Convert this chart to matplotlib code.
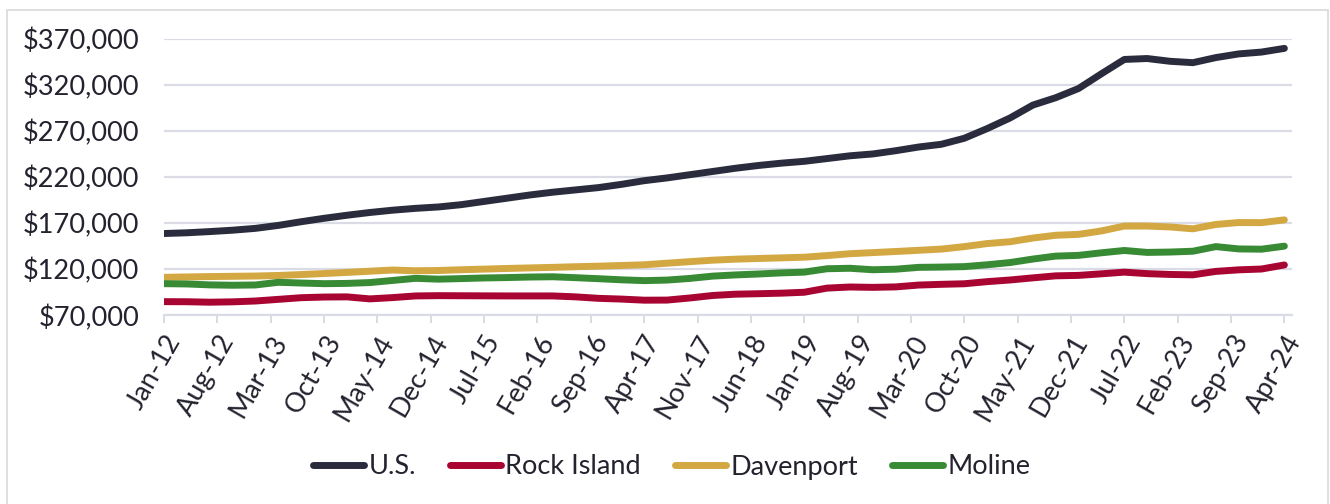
import numpy as np
import pandas as pd
import matplotlib.pyplot as plt
from matplotlib.patches import Rectangle

plt.rcParams['font.family'] = ['Lato', 'DejaVu Sans']

# quarterly readings, Jan-12 .. Apr-24
dates = pd.date_range('2012-01-01', '2024-04-01', freq='3MS')

us = [158700, 159500, 160800, 162300, 164300, 167500, 171500, 175200, 178500, 181500,
      184000, 186000, 187500, 190000, 193500, 197000, 200500, 203500, 206000, 208500,
      212000, 216000, 219000, 222500, 226000, 229500, 232500, 235000, 237000, 240000,
      243000, 245000, 248500, 252500, 255500, 262000, 272500, 284000, 298000, 306000,
      316000, 332000, 347500, 348500, 345500, 344000, 349500, 353500, 355500, 359500]

rock_island = [84800, 84700, 84200, 84600, 85500, 87300, 89100, 89800, 90000, 87800,
               89200, 91000, 91300, 91200, 91100, 91000, 91000, 91000, 90000, 88400,
               87600, 86400, 86500, 88800, 91500, 92900, 93400, 94000, 95000, 99500,
               100700, 100300, 100800, 102800, 103600, 104200, 106500, 108300, 110600, 112800,
               113300, 115000, 116800, 115200, 114300, 113900, 117600, 119300, 120200, 124600]

davenport = [111200, 111600, 112000, 112300, 112600, 113200, 114200, 115300, 116500, 117800,
             119100, 118300, 118600, 119400, 120100, 120800, 121400, 122000, 122700, 123300,
             124000, 124800, 126500, 128200, 129800, 130900, 131600, 132300, 133000, 134800,
             136800, 138000, 139200, 140500, 141800, 144500, 147800, 149800, 153800, 156800,
             157800, 161500, 166800, 166800, 165800, 163800, 168500, 170600, 170500, 173500]

moline = [104300, 104000, 103000, 102600, 102900, 105800, 105000, 104300, 104600, 105500,
          107800, 110100, 109200, 109800, 110500, 110900, 111500, 111800, 110800, 109700,
          108500, 107600, 108200, 110000, 112500, 113800, 114800, 116000, 116800, 120500,
          121000, 119400, 120000, 122000, 122300, 122800, 124800, 127200, 131000, 134200,
          135000, 137800, 140300, 138200, 138600, 139500, 144500, 142000, 141700, 145000]

tick_labels = ['Jan-12', 'Aug-12', 'Mar-13', 'Oct-13', 'May-14', 'Dec-14', 'Jul-15',
               'Feb-16', 'Sep-16', 'Apr-17', 'Nov-17', 'Jun-18', 'Jan-19', 'Aug-19',
               'Mar-20', 'Oct-20', 'May-21', 'Dec-21', 'Jul-22', 'Feb-23', 'Sep-23', 'Apr-24']

series = [('U.S.', us, '#2a2c3d'),
          ('Rock Island', rock_island, '#a80532'),
          ('Davenport', davenport, '#d3a842'),
          ('Moline', moline, '#388b34')]

# months since the first observation
months = (dates.year - 2012) * 12 + (dates.month - 1)

txt = '#23232f'
grid = '#dadbe4'
fs = 19.5

fig = plt.figure(figsize=(13.3, 5.04), dpi=100)
fig.patches.append(Rectangle((7 / 1330, -0.1), 1321 / 1330, 1.1 - 10 / 504,
                             transform=fig.transFigure, fill=False,
                             edgecolor='#d9d9d9', linewidth=1.2))

ax = fig.add_axes([164 / 1330, 1 - 315.3 / 504, 1128 / 1330, 276.6 / 504])

for name, vals, col in series:
    ax.plot(months, vals, color=col, lw=5, solid_capstyle='round',
            solid_joinstyle='round', label=name)

ax.set_xlim(0, 148)
ax.set_ylim(70000, 370000)
ax.set_yticks(np.arange(70000, 370001, 50000))
ax.yaxis.set_major_formatter(plt.FuncFormatter(lambda v, p: '${:,.0f}'.format(v)))
ax.grid(axis='y', color=grid, lw=1.6)
ax.set_axisbelow(True)

ax.set_xticks(np.arange(0, 148, 7))
ax.set_xticklabels(tick_labels, rotation=60, ha='right', va='top',
                   rotation_mode='anchor')

for s in ['left', 'right', 'top']:
    ax.spines[s].set_visible(False)
ax.spines['bottom'].set_color(grid)
ax.spines['bottom'].set_linewidth(1.6)
ax.tick_params(axis='y', length=0, pad=18, labelsize=fs, labelcolor=txt)
ax.tick_params(axis='x', length=6, width=1.4, color=grid, pad=5,
               labelsize=fs, labelcolor=txt)

ax.legend(loc='center', bbox_to_anchor=(0.505, 1 - 467 / 504), bbox_transform=fig.transFigure,
          ncol=4, frameon=False, fontsize=fs, handlelength=1.9, handletextpad=0.15,
          columnspacing=1.25, labelcolor=txt)

fig.savefig('out.png', dpi=100)
